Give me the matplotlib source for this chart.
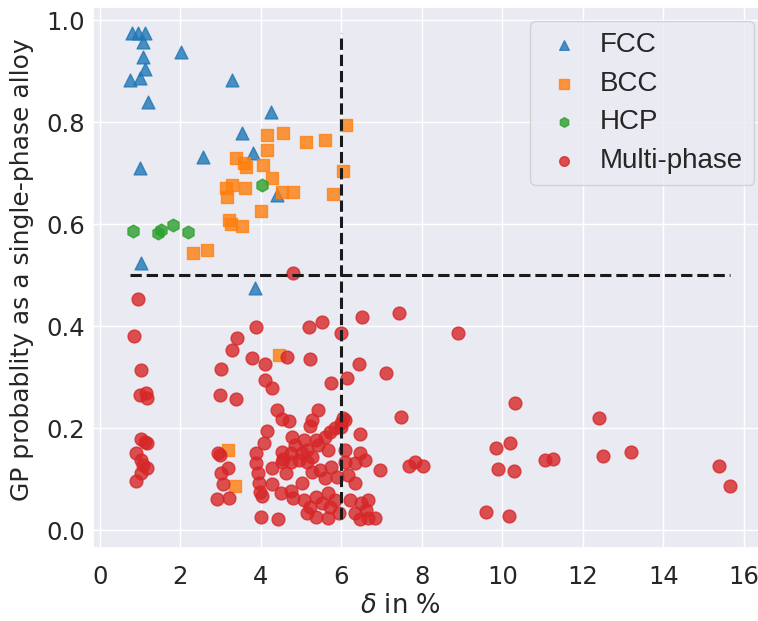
import matplotlib
matplotlib.use('Agg')
import matplotlib.pyplot as plt
import seaborn as sns

# delta (%) and GP probability
fcc_delta = [0.81, 0.94, 1.11, 1.06, 1.06, 1.11, 0.74, 0.99, 1.19, 2.02, 3.29,
             4.24, 3.54, 3.80, 2.57, 0.99, 4.40, 1.03, 3.85]
fcc_prob = [0.975, 0.975, 0.975, 0.957, 0.928, 0.904, 0.882, 0.886, 0.840, 0.937, 0.882,
            0.820, 0.778, 0.739, 0.731, 0.710, 0.657, 0.524, 0.474]

bcc_delta = [4.15, 4.54, 5.11, 5.60, 6.12, 4.15, 3.38, 3.58, 3.63, 4.05, 6.05, 4.27,
             3.14, 3.28, 3.60, 3.16, 4.52, 4.81, 5.80, 4.00, 3.21, 3.26, 3.53, 2.32,
             2.67, 4.44, 3.19, 3.36]
bcc_prob = [0.775, 0.778, 0.761, 0.765, 0.794, 0.745, 0.729, 0.719, 0.712, 0.716, 0.704, 0.690,
            0.670, 0.676, 0.670, 0.653, 0.663, 0.663, 0.660, 0.625, 0.608, 0.600, 0.596, 0.543,
            0.550, 0.343, 0.157, 0.086]

hcp_delta = [0.82, 1.44, 1.51, 1.81, 2.20, 4.03]
hcp_prob = [0.586, 0.582, 0.588, 0.598, 0.584, 0.676]

multi_delta = [
    0.94, 0.84, 1.01, 0.99, 1.14, 1.16, 1.03, 1.11, 1.18, 0.91, 1.01, 1.06, 1.16, 1.01, 0.91,
    3.88, 3.41, 3.29, 3.78, 4.10, 4.64, 3.01, 4.10, 4.27, 2.99, 3.38, 4.39, 4.52, 4.69, 4.15,
    4.07, 4.77, 3.88, 3.88, 3.93, 3.95, 3.99, 4.02, 4.27, 4.27, 4.62, 4.52, 4.54, 4.49, 4.74,
    4.00, 4.42, 2.94, 2.99, 3.19, 3.01, 3.06, 2.91, 3.21, 4.74, 4.80,
    5.19, 5.53, 6.52, 6.00, 5.23, 6.44, 7.11, 5.75, 6.15, 5.41, 5.26, 5.23, 6.05, 6.00, 6.47,
    4.86, 5.06, 5.01, 5.14, 5.26, 5.38, 5.60, 5.73, 5.85, 5.98, 6.10, 5.68, 5.43, 5.14, 4.94,
    4.74, 4.52, 5.48, 5.26, 5.75, 6.10, 6.10, 6.35, 6.47, 6.59, 6.96, 5.88, 5.60, 6.17, 6.35,
    5.01, 4.81, 5.06, 5.23, 5.36, 5.51, 5.68, 5.73, 5.85, 5.93, 5.38, 5.14, 5.68, 6.22, 6.35,
    6.49, 6.62, 6.47, 6.84, 6.67,
    7.43, 8.91, 10.32, 7.48, 12.40, 10.20, 9.83, 7.83, 7.68, 8.02, 9.90, 10.30, 11.06, 11.26,
    12.49, 13.19, 15.38, 15.65, 9.60, 10.17, 6.67,
]
multi_prob = [
    0.453, 0.381, 0.314, 0.265, 0.269, 0.259, 0.178, 0.173, 0.170, 0.151, 0.137, 0.127, 0.121, 0.112, 0.096,
    0.398, 0.376, 0.353, 0.337, 0.325, 0.339, 0.315, 0.294, 0.279, 0.265, 0.257, 0.235, 0.218, 0.214, 0.194,
    0.171, 0.182, 0.151, 0.131, 0.112, 0.092, 0.075, 0.067, 0.121, 0.090, 0.112, 0.153, 0.139, 0.073, 0.076,
    0.025, 0.022, 0.151, 0.147, 0.121, 0.112, 0.090, 0.061, 0.063, 0.151, 0.505,
    0.398, 0.408, 0.418, 0.386, 0.335, 0.325, 0.308, 0.288, 0.298, 0.235, 0.216, 0.204, 0.220, 0.202, 0.188,
    0.167, 0.176, 0.151, 0.157, 0.143, 0.176, 0.182, 0.192, 0.200, 0.210, 0.216, 0.157, 0.167, 0.133, 0.137,
    0.133, 0.133, 0.118, 0.114, 0.124, 0.157, 0.133, 0.131, 0.151, 0.137, 0.118, 0.104, 0.102, 0.108, 0.092,
    0.092, 0.063, 0.059, 0.045, 0.065, 0.053, 0.073, 0.045, 0.059, 0.033, 0.025, 0.033, 0.024, 0.059, 0.033,
    0.053, 0.039, 0.022, 0.024, 0.024,
    0.425, 0.386, 0.249, 0.222, 0.220, 0.171, 0.161, 0.133, 0.125, 0.125, 0.120, 0.116, 0.137, 0.139,
    0.145, 0.153, 0.125, 0.086, 0.035, 0.027, 0.059,
]

prob_cut = 0.5
delta_cut = 6.0

sns.set_theme(style='darkgrid', font_scale=1.5)

fig = plt.figure(figsize=(7.58, 6.21), dpi=100)
ax = fig.add_axes([0.1227, 0.1176, 0.8905, 0.8705])

groups = [
    ('FCC', fcc_delta, fcc_prob, '^', 'tab:blue'),
    ('BCC', bcc_delta, bcc_prob, 's', 'tab:orange'),
    ('HCP', hcp_delta, hcp_prob, 'h', 'tab:green'),
    ('Multi-phase', multi_delta, multi_prob, 'o', 'tab:red'),
]
for name, xs, ys, mk, col in groups:
    ax.scatter(xs, ys, s=85, marker=mk, color=col, alpha=0.8, label=name)

all_delta = fcc_delta + bcc_delta + hcp_delta + multi_delta
all_prob = fcc_prob + bcc_prob + hcp_prob + multi_prob
ax.plot([min(all_delta), max(all_delta)], [prob_cut, prob_cut], 'k--', lw=2.2)
ax.plot([delta_cut, delta_cut], [min(all_prob), max(all_prob)], 'k--', lw=2.2)

ax.set_xlim(-0.17, 16.6)
ax.set_ylim(-0.035, 1.025)
ax.set_xticks(range(0, 17, 2))
ax.set_yticks([0.0, 0.2, 0.4, 0.6, 0.8, 1.0])
ax.tick_params(axis='y', length=0, pad=6, labelsize=17.5)
ax.tick_params(axis='x', length=0, pad=12, labelsize=17.5)

ax.set_xlabel(r'$\delta$ in %', fontsize=18.5)
ax.set_ylabel('GP probablity as a single-phase alloy', fontsize=18)
ax.xaxis.set_label_coords(0.455, -0.083)
ax.yaxis.set_label_coords(-0.088, 0.514)

ax.legend(loc='upper right', markerscale=0.75, labelspacing=0.45,
          handlelength=1.6, handletextpad=0.5, borderaxespad=0.5,
          prop={'family': 'Liberation Sans', 'size': 20})

fig.savefig('out.png', dpi=100)
